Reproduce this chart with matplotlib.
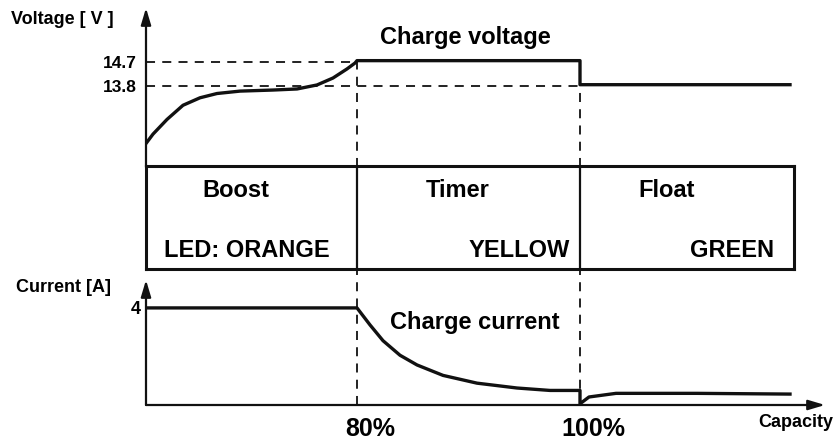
import matplotlib
matplotlib.use('Agg')
import matplotlib.pyplot as plt

# x positions are in schematic units (0 = start of charge, 211 = 80 %, 434 = 100 %)
stage_edges = [0, 211, 434, 648]
stage_names = ['Boost', 'Timer', 'Float']
led_labels = ['LED: ORANGE', 'YELLOW', 'GREEN']
cap_ticks = [211, 434]
cap_labels = ['80%', '100%']

# voltage curve (V)
volt_x = [0, 7, 21, 37, 54, 71, 94, 127, 151, 171, 187, 201, 209, 211,
          434, 434, 644]
volt_y = [11.65, 12.0, 12.55, 13.08, 13.36, 13.52, 13.61, 13.65, 13.69, 13.84,
          14.10, 14.44, 14.66, 14.75, 14.75, 13.85, 13.85]
volt_levels = [14.7, 13.8]

# current curve (A)
curr_x = [0, 211, 224, 237, 254, 271, 297, 331, 371, 404, 434, 434, 443, 470,
          551, 644]
curr_y = [4.0, 4.0, 3.3, 2.65, 2.05, 1.65, 1.22, 0.9, 0.7, 0.6, 0.6, 0.05,
          0.33, 0.48, 0.48, 0.45]

plt.rcParams['font.family'] = ['Liberation Sans', 'DejaVu Sans']
plt.rcParams['font.weight'] = 'bold'

W, H = 839, 441
fig = plt.figure(figsize=(W / 100, H / 100), dpi=100)


def rect(left, top, right, bottom):
    return [left / W, 1 - bottom / H, (right - left) / W, (bottom - top) / H]


def fxy(x, y):
    return x / W, 1 - y / H


ink = '#111111'
dash = dict(color=ink, lw=1.3, ls=(0, (5, 4)), clip_on=False)
arrow = dict(arrowstyle='-|>,head_length=1.0,head_width=0.3', lw=1.6, color=ink,
             shrinkA=0, shrinkB=0)

# ---- voltage panel
axv = fig.add_axes(rect(146, 8, 825, 167))
axv.set_xlim(0, 679)
axv.set_ylim(10.77, 16.72)
for s in axv.spines.values():
    s.set_visible(False)
axv.set_xticks([])
axv.set_yticks(volt_levels, [str(v) for v in volt_levels])
axv.tick_params(axis='y', length=0, pad=7, labelsize=12.5)
axv.annotate('', xy=(0, 1), xytext=(0, 0), xycoords='axes fraction', arrowprops=arrow)
axv.plot([0, stage_edges[1]], [volt_levels[0]] * 2, **dash)
axv.plot([0, stage_edges[2]], [volt_levels[1]] * 2, **dash)
axv.plot([stage_edges[1]] * 2, [10.77, volt_levels[0]], **dash)
axv.plot([stage_edges[2]] * 2, [10.77, volt_levels[1]], **dash)
axv.plot(volt_x, volt_y, color=ink, lw=2.4, solid_joinstyle='round')
axv.text(319, 15.6, 'Charge voltage', ha='center', va='center', fontsize=17)

# ---- stage box
axb = fig.add_axes(rect(146, 166, 794, 269))
axb.set_xlim(stage_edges[0], stage_edges[-1])
axb.set_ylim(0, 1)
axb.set_xticks([])
axb.set_yticks([])
for s in axb.spines.values():
    s.set_linewidth(2.2)
    s.set_color(ink)
for e in stage_edges[1:-1]:
    axb.axvline(e, color=ink, lw=1.6)
name_x = [90, 312, 521]
for nx, name in zip(name_x, stage_names):
    axb.text(nx, 0.76, name, ha='center', va='center', fontsize=17)
axb.text(18, 0.18, led_labels[0], ha='left', va='center', fontsize=17)
axb.text(424, 0.18, led_labels[1], ha='right', va='center', fontsize=17)
axb.text(628, 0.18, led_labels[2], ha='right', va='center', fontsize=17)

# ---- current panel
axc = fig.add_axes(rect(146, 280, 825, 405))
axc.set_xlim(0, 679)
axc.set_ylim(0, 5.15)
for s in axc.spines.values():
    s.set_visible(False)
axc.set_yticks([4], ['4'])
axc.tick_params(axis='y', length=0, pad=4, labelsize=13)
axc.set_xticks([])
axc.annotate('', xy=(0, 1), xytext=(0, 0), xycoords='axes fraction', arrowprops=arrow)
axc.annotate('', xy=(1, 0), xytext=(0, 0), xycoords='axes fraction', arrowprops=arrow)
for e in cap_ticks:
    axc.plot([e, e], [0, 5.62], **dash)
axc.plot(curr_x, curr_y, color=ink, lw=2.4, solid_joinstyle='round')
axc.text(244, 3.4, 'Charge current', ha='left', va='center', fontsize=17)
for t, lab in zip(cap_ticks, cap_labels):
    axc.text(t + 13, -0.99, lab, ha='center', va='center', fontsize=18)
axc.text(650, -0.72, 'Capacity', ha='center', va='center', fontsize=13)

fig.text(*fxy(11, 20), 'Voltage [ V ]', ha='left', va='center', fontsize=13)
fig.text(*fxy(16, 288), 'Current [A]', ha='left', va='center', fontsize=13)

fig.savefig('out.png', dpi=100, facecolor='white')
